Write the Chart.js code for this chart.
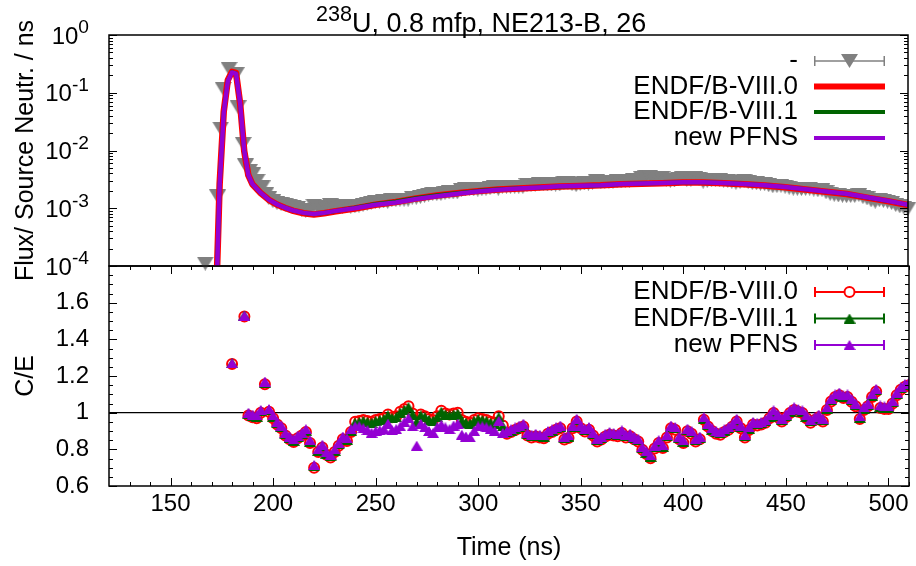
<!DOCTYPE html>
<html>
<head>
<meta charset="utf-8">
<script src="https://cdn.jsdelivr.net/npm/chart.js@4/dist/chart.umd.min.js"></script>
<style>
  html, body { margin: 0; padding: 0; background: #fff; }
  #wrap { position: relative; width: 916px; height: 566px; }
  canvas { position: absolute; left: 0; top: 0; }
</style>
</head>
<body>
<div id="wrap">
  <canvas id="ceChart" width="916" height="566"></canvas>
  <canvas id="fluxChart" width="916" height="566"></canvas>
</div>
<script>
// ---- axes ----
const xMin = 120, xMax = 510;
const xTicks = [150, 200, 250, 300, 350, 400, 450, 500];
const xTickLabels = ['150', '200', '250', '300', '350', '400', '450', '500'];
const fluxMin = 1e-4, fluxMax = 1;
const fluxTicks = [1e-4, 1e-3, 1e-2, 1e-1, 1];
const fluxTickExp = ['-4', '-3', '-2', '-1', '0'];
const ceMin = 0.6, ceMax = 1.8;
const ceTicks = [0.6, 0.8, 1, 1.2, 1.4, 1.6];
const ceTickLabels = ['0.6', '0.8', '1', '1.2', '1.4', '1.6'];
const ceRef = 1;

const titleSup = '238';
const titleText = 'U, 0.8 mfp, NE213-B, 26';
const fluxLegend = ['-', 'ENDF/B-VIII.0', 'ENDF/B-VIII.1', 'new PFNS'];
const ceLegend = ['ENDF/B-VIII.0', 'ENDF/B-VIII.1', 'new PFNS'];

// ---- measured spectrum (top panel) ----
const expTime = [167, 173, 174.5, 175.7, 178.6, 182.1, 183, 185.5, 186.6, 188.5, 190.2, 192.3, 194.7, 196.6,
  198, 200, 202, 204, 206, 208, 210, 212, 214, 216, 218, 220, 222, 224, 226, 228, 230, 232, 234, 236,
  238, 240, 242, 244, 246, 248, 250, 252, 254, 256, 258, 260, 262, 264, 266, 268, 270, 272, 274, 276,
  278, 280, 282, 284, 286, 288, 290, 292, 294, 296, 298, 300, 302, 304, 306, 308, 310, 312, 314, 316,
  318, 320, 322, 324, 326, 328, 330, 332, 334, 336, 338, 340, 342, 344, 346, 348, 350, 352, 354, 356,
  358, 360, 362, 364, 366, 368, 370, 372, 374, 376, 378, 380, 382, 384, 386, 388, 390, 392, 394, 396,
  398, 400, 402, 404, 406, 408, 410, 412, 414, 416, 418, 420, 422, 424, 426, 428, 430, 432, 434, 436,
  438, 440, 442, 444, 446, 448, 450, 452, 454, 456, 458, 460, 462, 464, 466, 468, 470, 472, 474, 476,
  478, 480, 482, 484, 486, 488, 490, 492, 494, 496, 498, 500, 502, 504, 506, 508, 510];
const expFlux = [1.1e-4, 1.6e-3, 0.024, 0.117, 0.26, 0.21, 0.056, 0.013, 0.0055, 0.0044, 0.0039, 0.0030, 0.0023, 0.00178,
  1.50e-3, 1.33e-3, 1.23e-3, 1.18e-3, 1.15e-3, 1.11e-3, 1.07e-3, 1.01e-3, 0.95e-3, 0.91e-3,
  0.95e-3, 1.11e-3, 1.01e-3, 1.00e-3, 1.07e-3, 1.13e-3, 1.11e-3, 1.09e-3, 1.07e-3, 1.11e-3,
  1.07e-3, 1.08e-3, 1.11e-3, 1.15e-3, 1.20e-3, 1.25e-3, 1.28e-3, 1.29e-3, 1.31e-3, 1.29e-3,
  1.37e-3, 1.38e-3, 1.40e-3, 1.40e-3, 1.41e-3, 1.52e-3, 1.52e-3, 1.57e-3, 1.65e-3, 1.72e-3,
  1.78e-3, 1.76e-3, 1.77e-3, 1.83e-3, 1.88e-3, 1.88e-3, 1.89e-3, 2.06e-3, 2.12e-3, 2.17e-3,
  2.13e-3, 2.11e-3, 2.14e-3, 2.18e-3, 2.23e-3, 2.29e-3, 2.19e-3, 2.37e-3, 2.37e-3, 2.36e-3,
  2.36e-3, 2.36e-3, 2.35e-3, 2.51e-3, 2.56e-3, 2.57e-3, 2.60e-3, 2.64e-3, 2.59e-3, 2.58e-3,
  2.57e-3, 2.58e-3, 2.78e-3, 2.76e-3, 2.61e-3, 2.52e-3, 2.63e-3, 2.70e-3, 2.68e-3, 2.79e-3,
  2.91e-3, 2.89e-3, 2.86e-3, 2.85e-3, 2.90e-3, 2.94e-3, 2.91e-3, 3.00e-3, 2.99e-3, 3.06e-3,
  3.12e-3, 3.31e-3, 3.42e-3, 3.53e-3, 3.32e-3, 3.22e-3, 3.35e-3, 3.14e-3, 2.99e-3, 3.03e-3,
  3.22e-3, 3.32e-3, 3.09e-3, 3.13e-3, 3.29e-3, 3.24e-3, 2.89e-3, 2.98e-3, 3.05e-3, 3.09e-3,
  3.08e-3, 3.02e-3, 2.96e-3, 2.87e-3, 2.77e-3, 2.85e-3, 2.99e-3, 2.84e-3, 2.72e-3, 2.71e-3,
  2.66e-3, 2.62e-3, 2.51e-3, 2.41e-3, 2.42e-3, 2.45e-3, 2.36e-3, 2.27e-3, 2.19e-3, 2.18e-3,
  2.15e-3, 2.17e-3, 2.19e-3, 2.11e-3, 2.05e-3, 2.06e-3, 1.89e-3, 1.78e-3, 1.71e-3, 1.67e-3,
  1.65e-3, 1.62e-3, 1.63e-3, 1.63e-3, 1.70e-3, 1.56e-3, 1.48e-3, 1.37e-3, 1.30e-3, 1.38e-3,
  1.34e-3, 1.30e-3, 1.23e-3, 1.14e-3, 1.08e-3, 1.03e-3, 0.99e-3];

// ---- calculated spectra (top panel) ----
const calcTime = [166, 170, 172, 174, 176, 178, 180, 182, 184, 186, 188, 190, 194, 198, 202, 206, 210, 215, 220, 225,
  230, 240, 250, 260, 270, 280, 290, 300, 310, 320, 330, 340, 350, 360, 370, 380, 390, 400, 410, 420,
  430, 440, 450, 460, 470, 480, 490, 500, 510];
const fluxV80 = [1e-6, 1e-6, 1.2e-5, 2.6e-3, 0.047, 0.165, 0.23, 0.22, 0.065, 0.0098, 3.75e-3, 2.6e-3, 1.84e-3, 1.4e-3,
  1.16e-3, 1.01e-3, 9.0e-4, 8.2e-4, 7.8e-4, 8.2e-4, 8.8e-4, 9.9e-4, 1.15e-3, 1.28e-3, 1.48e-3, 1.66e-3, 1.82e-3,
  1.98e-3, 2.11e-3, 2.2e-3, 2.28e-3, 2.38e-3, 2.43e-3, 2.49e-3, 2.6e-3, 2.66e-3, 2.72e-3, 2.79e-3, 2.79e-3,
  2.72e-3, 2.6e-3, 2.48e-3, 2.31e-3, 2.11e-3, 1.93e-3, 1.76e-3, 1.53e-3, 1.33e-3, 1.13e-3];
const fluxV81 = [1e-6, 1e-6, 1.1e-5, 2.5e-3, 0.046, 0.162, 0.227, 0.217, 0.066, 0.0099, 3.78e-3, 2.62e-3, 1.85e-3, 1.41e-3,
  1.17e-3, 1.02e-3, 9.1e-4, 8.3e-4, 7.9e-4, 8.3e-4, 8.9e-4, 1.02e-3, 1.19e-3, 1.31e-3, 1.5e-3, 1.68e-3, 1.84e-3,
  2.0e-3, 2.13e-3, 2.21e-3, 2.29e-3, 2.39e-3, 2.44e-3, 2.5e-3, 2.62e-3, 2.68e-3, 2.74e-3, 2.81e-3, 2.81e-3,
  2.74e-3, 2.62e-3, 2.5e-3, 2.33e-3, 2.13e-3, 1.94e-3, 1.77e-3, 1.54e-3, 1.34e-3, 1.14e-3];
const fluxPfns = [1e-6, 1e-6, 1e-5, 2.5e-3, 0.045, 0.16, 0.225, 0.215, 0.066, 0.01, 3.8e-3, 2.63e-3, 1.86e-3, 1.41e-3,
  1.17e-3, 1.02e-3, 9.12e-4, 8.32e-4, 7.94e-4, 8.32e-4, 8.91e-4, 1.0e-3, 1.15e-3, 1.26e-3, 1.45e-3, 1.62e-3, 1.78e-3,
  1.95e-3, 2.09e-3, 2.19e-3, 2.29e-3, 2.40e-3, 2.45e-3, 2.51e-3, 2.63e-3, 2.69e-3, 2.75e-3, 2.82e-3, 2.82e-3,
  2.75e-3, 2.63e-3, 2.51e-3, 2.34e-3, 2.14e-3, 1.95e-3, 1.78e-3, 1.55e-3, 1.35e-3, 1.15e-3];

// ---- C/E (bottom panel) ----
const ceTime = [180, 186, 188, 190, 192, 194, 196, 198, 200, 202, 204, 206, 208, 210, 212, 214, 216, 218, 220, 222,
  224, 226, 228, 230, 232, 234, 236, 238, 240, 242, 244, 246, 248, 250, 252, 254, 256, 258, 260, 262,
  264, 266, 268, 270, 272, 274, 276, 278, 280, 282, 284, 286, 288, 290, 292, 294, 296, 298, 300, 302,
  304, 306, 308, 310, 312, 314, 316, 318, 320, 322, 324, 326, 328, 330, 332, 334, 336, 338, 340, 342,
  344, 346, 348, 350, 352, 354, 356, 358, 360, 362, 364, 366, 368, 370, 372, 374, 376, 378, 380, 382,
  384, 386, 388, 390, 392, 394, 396, 398, 400, 402, 404, 406, 408, 410, 412, 414, 416, 418, 420, 422,
  424, 426, 428, 430, 432, 434, 436, 438, 440, 442, 444, 446, 448, 450, 452, 454, 456, 458, 460, 462,
  464, 466, 468, 470, 472, 474, 476, 478, 480, 482, 484, 486, 488, 490, 492, 494, 496, 498, 500, 502,
  504, 506, 508, 510];
const ceV80 = [1.265, 1.525,
  0.985, 0.975, 0.97, 1.0, 1.155, 1.005, 0.97, 0.935, 0.915, 0.875,
  0.855, 0.84, 0.86, 0.875, 0.895, 0.835, 0.70, 0.785, 0.81, 0.77,
  0.755, 0.785, 0.82, 0.855, 0.845, 0.895, 0.95, 0.955, 0.96, 0.955,
  0.95, 0.96, 0.965, 0.97, 0.99, 0.975, 0.98, 1.005, 1.02, 1.035,
  0.995, 0.955, 0.99, 0.98, 0.965, 0.96, 0.98, 1.01, 0.995, 0.99,
  0.995, 1.0, 0.96, 0.95, 0.945, 0.96, 0.97, 0.965, 0.96, 0.95,
  0.945, 0.98, 0.93, 0.885, 0.895, 0.905, 0.915, 0.925, 0.875, 0.865,
  0.87, 0.865, 0.861, 0.885, 0.895, 0.907, 0.915, 0.853, 0.862, 0.915,
  0.952, 0.915, 0.897, 0.907, 0.875, 0.843, 0.853, 0.87, 0.88, 0.875,
  0.871, 0.889, 0.865, 0.871, 0.855, 0.843, 0.798, 0.775, 0.752, 0.805,
  0.835, 0.807, 0.865, 0.915, 0.907, 0.855, 0.835, 0.898, 0.885, 0.843,
  0.855, 0.961, 0.925, 0.90, 0.885, 0.88, 0.895, 0.907, 0.925, 0.952,
  0.915, 0.865, 0.905, 0.935, 0.93, 0.935, 0.945, 0.97, 0.998, 0.975,
  0.952, 0.975, 0.998, 1.015, 1.005, 0.998, 0.97, 0.945, 0.96, 0.975,
  0.952, 1.015, 1.061, 1.085, 1.095, 1.08, 1.085, 1.06, 1.035, 0.965,
  1.015, 1.035, 1.085, 1.115, 1.025, 1.02, 1.02, 1.05, 1.095, 1.125,
  1.142, 1.15];
const ceV81 = [1.27, 1.53,
  0.992, 0.982, 0.977, 1.007, 1.162, 1.012, 0.977, 0.942, 0.922, 0.882,
  0.862, 0.847, 0.867, 0.882, 0.902, 0.842, 0.707, 0.792, 0.817, 0.777,
  0.762, 0.792, 0.827, 0.862, 0.852, 0.902, 0.945, 0.95, 0.955, 0.95,
  0.945, 0.955, 0.96, 0.965, 0.985, 0.97, 0.975, 1.0, 1.015, 1.03,
  0.99, 0.95, 0.985, 0.975, 0.96, 0.955, 0.975, 1.005, 0.99, 0.985,
  0.99, 0.995, 0.955, 0.945, 0.94, 0.955, 0.965, 0.96, 0.955, 0.945,
  0.94, 0.975, 0.925, 0.892, 0.902, 0.912, 0.922, 0.932, 0.882, 0.872,
  0.877, 0.872, 0.868, 0.892, 0.902, 0.914, 0.922, 0.86, 0.869, 0.922,
  0.959, 0.922, 0.904, 0.914, 0.882, 0.85, 0.86, 0.877, 0.887, 0.882,
  0.878, 0.896, 0.872, 0.878, 0.862, 0.85, 0.805, 0.782, 0.759, 0.812,
  0.842, 0.814, 0.872, 0.922, 0.914, 0.862, 0.842, 0.905, 0.892, 0.85,
  0.862, 0.968, 0.932, 0.907, 0.892, 0.887, 0.902, 0.914, 0.932, 0.959,
  0.922, 0.872, 0.912, 0.942, 0.937, 0.942, 0.952, 0.977, 1.005, 0.982,
  0.959, 0.982, 1.005, 1.022, 1.012, 1.005, 0.977, 0.952, 0.967, 0.982,
  0.959, 1.022, 1.068, 1.092, 1.102, 1.087, 1.092, 1.067, 1.042, 0.972,
  1.022, 1.042, 1.092, 1.122, 1.032, 1.027, 1.027, 1.057, 1.102, 1.132,
  1.149, 1.157];
const cePfns = [1.27, 1.53,
  1.00, 0.99, 0.985, 1.015, 1.17, 1.02, 0.985, 0.95, 0.93, 0.89,
  0.87, 0.855, 0.875, 0.89, 0.91, 0.85, 0.715, 0.80, 0.825, 0.785,
  0.77, 0.80, 0.835, 0.87, 0.86, 0.91, 0.925, 0.925, 0.915, 0.905,
  0.89, 0.90, 0.905, 0.91, 0.94, 0.905, 0.91, 0.925, 0.95, 0.97,
  0.925, 0.82, 0.94, 0.92, 0.90, 0.89, 0.92, 0.935, 0.92, 0.91,
  0.93, 0.94, 0.88, 0.87, 0.865, 0.90, 0.925, 0.925, 0.92, 0.91,
  0.90, 0.955, 0.89, 0.90, 0.91, 0.92, 0.93, 0.94, 0.89, 0.88,
  0.885, 0.88, 0.876, 0.90, 0.91, 0.922, 0.93, 0.868, 0.877, 0.93,
  0.967, 0.93, 0.912, 0.922, 0.89, 0.858, 0.868, 0.885, 0.895, 0.89,
  0.886, 0.904, 0.88, 0.886, 0.87, 0.858, 0.813, 0.79, 0.767, 0.82,
  0.85, 0.822, 0.88, 0.93, 0.922, 0.87, 0.85, 0.913, 0.90, 0.858,
  0.87, 0.976, 0.94, 0.915, 0.90, 0.895, 0.91, 0.922, 0.94, 0.967,
  0.93, 0.88, 0.92, 0.95, 0.945, 0.95, 0.96, 0.985, 1.013, 0.99,
  0.967, 0.99, 1.013, 1.03, 1.02, 1.013, 0.985, 0.96, 0.975, 0.99,
  0.967, 1.03, 1.076, 1.10, 1.11, 1.095, 1.10, 1.075, 1.05, 0.98,
  1.03, 1.05, 1.10, 1.13, 1.04, 1.035, 1.035, 1.065, 1.11, 1.14,
  1.157, 1.165];

// ---- look ----
const FONT = '"Liberation Sans", Arial, Helvetica, sans-serif';
const COL = { exp: '#808080', v80: '#ff0000', v81: '#006400', pfns: '#9400d3' };
const PLOT_LEFT = 109, PLOT_RIGHT = 914, SPLIT = 266, PLOT_BOTTOM = 486, PLOT_TOP = 35;
const LEG_TEXT_X = 798, LEG_X0 = 814, LEG_X1 = 885;

const pts = (xs, ys) => xs.map((x, i) => ({ x, y: ys[i] }));

// triangle markers centred on their bounding box, like gnuplot's
function makeTri(w, h, color, down) {
  const c = document.createElement('canvas');
  c.width = w; c.height = h;
  const g = c.getContext('2d');
  g.fillStyle = color;
  g.beginPath();
  if (down) { g.moveTo(0, 0); g.lineTo(w, 0); g.lineTo(w / 2, h); }
  else { g.moveTo(0, h); g.lineTo(w, h); g.lineTo(w / 2, 0); }
  g.closePath();
  g.fill();
  return c;
}
const triExp = makeTri(17, 14, COL.exp, true);
const triV81 = makeTri(12, 10, COL.v81, false);
const triPfns = makeTri(12, 10, COL.pfns, false);

function seg(ctx, x1, y1, x2, y2) {
  ctx.beginPath(); ctx.moveTo(x1, y1); ctx.lineTo(x2, y2); ctx.stroke();
}

// text with a raised part; pieces = [[text, isSup], ...]
function supWidth(ctx, pieces, size) {
  return pieces.reduce((w, [t, sup]) => {
    ctx.font = `${sup ? size * 0.8 : size}px ${FONT}`;
    return w + ctx.measureText(t).width;
  }, 0);
}
function supText(ctx, pieces, x, baseY, size) {
  let cx = x;
  ctx.textAlign = 'left';
  ctx.textBaseline = 'alphabetic';
  pieces.forEach(([t, sup]) => {
    ctx.font = `${sup ? size * 0.8 : size}px ${FONT}`;
    ctx.fillText(t, cx, sup ? baseY - size * 0.42 : baseY);
    cx += ctx.measureText(t).width;
  });
}

function yTickMarks(ctx, a, scale, values, len) {
  values.forEach(v => {
    const p = Math.round(scale.getPixelForValue(v)) + 0.5;
    if (p < a.top - 1 || p > a.bottom + 1) return;
    seg(ctx, a.left, p, a.left + len, p);
    seg(ctx, a.right, p, a.right - len, p);
  });
}
function xTickMarks(ctx, a, scale, values, len) {
  values.forEach(v => {
    const p = Math.round(scale.getPixelForValue(v)) + 0.5;
    if (p < a.left - 1 || p > a.right + 1) return;
    seg(ctx, p, a.bottom, p, a.bottom - len);
    seg(ctx, p, a.top, p, a.top + len);
  });
}

function errLegend(ctx, y, color, lw) {
  ctx.strokeStyle = color; ctx.lineWidth = lw;
  seg(ctx, LEG_X0, y, LEG_X1, y);
  seg(ctx, LEG_X0 + lw / 2, y - 5, LEG_X0 + lw / 2, y + 5);
  seg(ctx, LEG_X1 - lw / 2, y - 5, LEG_X1 - lw / 2, y + 5);
}

function legendText(ctx, text, y) {
  ctx.font = `26px ${FONT}`;
  ctx.fillStyle = '#000';
  ctx.textAlign = 'right';
  ctx.textBaseline = 'middle';
  ctx.fillText(text, LEG_TEXT_X, y);
}

function stamp(ctx, img, x, y) {
  ctx.drawImage(img, x - img.width / 2, y - img.height / 2);
}

const fluxDecor = {
  id: 'fluxDecor',
  afterDatasetsDraw(chart) {
    const { ctx, chartArea: a, scales: { y } } = chart;
    ctx.save();
    ctx.strokeStyle = '#000';
    ctx.lineWidth = 1;
    const minor = [];
    for (let d = -4; d < 0; d++) for (let m = 2; m < 10; m++) minor.push(m * Math.pow(10, d));
    yTickMarks(ctx, a, y, minor, 4);
    yTickMarks(ctx, a, y, fluxTicks, 8);
    ctx.lineWidth = 1.5;
    ctx.strokeRect(a.left, a.top, a.right - a.left, a.bottom - a.top);

    // tick labels 10^n
    ctx.fillStyle = '#000';
    fluxTicks.forEach((v, i) => {
      const p = y.getPixelForValue(v);
      const pieces = [['10', false], [fluxTickExp[i], true]];
      const w = supWidth(ctx, pieces, 24);
      supText(ctx, pieces, 89 - w, p + 8.5, 24);
    });

    // title
    supText(ctx, [[titleSup, true], [titleText, false]], 316, 32, 27);

    // legend
    const rows = [61, 86.5, 112, 138];
    legendText(ctx, fluxLegend[0], rows[0]);
    errLegend(ctx, rows[0], COL.exp, 1.5);
    stamp(ctx, triExp, (LEG_X0 + LEG_X1) / 2, rows[0]);
    [[COL.v80, 6], [COL.v81, 4], [COL.pfns, 4]].forEach(([c, w], k) => {
      legendText(ctx, fluxLegend[k + 1], rows[k + 1]);
      ctx.strokeStyle = c; ctx.lineWidth = w;
      seg(ctx, LEG_X0, rows[k + 1], LEG_X1, rows[k + 1]);
    });
    ctx.restore();
  }
};

const ceDecor = {
  id: 'ceDecor',
  afterDatasetsDraw(chart) {
    const { ctx, chartArea: a, scales: { x, y } } = chart;
    ctx.save();
    ctx.strokeStyle = '#000';
    ctx.lineWidth = 1;
    const xMinor = [], yMinor = [];
    for (let t = 130; t <= xMax; t += 10) if (t % 50) xMinor.push(t);
    for (let k = 13; k < 36; k++) if (k % 4) yMinor.push(k * 0.05);
    xTickMarks(ctx, a, x, xMinor, 4);
    xTickMarks(ctx, a, x, xTicks, 8);
    yTickMarks(ctx, a, y, yMinor, 4);
    yTickMarks(ctx, a, y, ceTicks, 8);
    ctx.lineWidth = 1.5;
    ctx.strokeRect(a.left, a.top, a.right - a.left, a.bottom - a.top);

    // legend
    const rows = [292, 318.5, 345];
    const mx = (LEG_X0 + LEG_X1) / 2;
    legendText(ctx, ceLegend[0], rows[0]);
    errLegend(ctx, rows[0], COL.v80, 2);
    ctx.beginPath(); ctx.arc(mx, rows[0], 5, 0, Math.PI * 2);
    ctx.fillStyle = '#fff'; ctx.fill(); ctx.stroke();
    legendText(ctx, ceLegend[1], rows[1]);
    errLegend(ctx, rows[1], COL.v81, 2);
    stamp(ctx, triV81, mx, rows[1]);
    legendText(ctx, ceLegend[2], rows[2]);
    errLegend(ctx, rows[2], COL.pfns, 2);
    stamp(ctx, triPfns, mx, rows[2]);
    ctx.restore();
  }
};

const tickFont = { family: FONT, size: 24 };
const titleFont = { family: FONT, size: 25 };

new Chart(document.getElementById('fluxChart'), {
  type: 'line',
  data: {
    datasets: [
      { label: fluxLegend[0], data: pts(expTime, expFlux), showLine: false, pointStyle: triExp,
        pointRadius: 8, backgroundColor: COL.exp, borderColor: COL.exp, borderWidth: 0,
        clip: false, order: 4 },
      { label: fluxLegend[1], data: pts(calcTime, fluxV80), borderColor: COL.v80, borderWidth: 6.5,
        pointRadius: 0, borderJoinStyle: 'round', order: 3 },
      { label: fluxLegend[2], data: pts(calcTime, fluxV81), borderColor: COL.v81, borderWidth: 4,
        pointRadius: 0, borderJoinStyle: 'round', order: 2 },
      { label: fluxLegend[3], data: pts(calcTime, fluxPfns), borderColor: COL.pfns, borderWidth: 4.5,
        pointRadius: 0, borderJoinStyle: 'round', order: 1 }
    ]
  },
  options: {
    responsive: false,
    animation: false,
    events: [],
    layout: { padding: { left: 0, right: 916 - PLOT_RIGHT, top: PLOT_TOP, bottom: 566 - SPLIT } },
    plugins: { legend: { display: false }, tooltip: { enabled: false } },
    scales: {
      x: { type: 'linear', min: xMin, max: xMax, display: false },
      y: {
        type: 'logarithmic', min: fluxMin, max: fluxMax,
        grid: { display: false, drawTicks: false },
        border: { display: false },
        ticks: { display: false },
        title: { display: true, text: 'Flux/ Source Neutr. / ns', color: '#000', font: titleFont,
          padding: { top: 11, bottom: 0 } },
        afterFit: s => { s.width = PLOT_LEFT; }
      }
    }
  },
  plugins: [fluxDecor]
});

new Chart(document.getElementById('ceChart'), {
  type: 'line',
  data: {
    datasets: [
      { label: 'ref', data: [{ x: xMin, y: ceRef }, { x: xMax, y: ceRef }], borderColor: '#000',
        borderWidth: 1.2, pointRadius: 0, order: 5 },
      { label: ceLegend[0], data: pts(ceTime, ceV80), showLine: false, pointStyle: 'circle', pointRadius: 5,
        backgroundColor: 'rgba(0,0,0,0)', borderColor: COL.v80, borderWidth: 2, order: 3 },
      { label: ceLegend[1], data: pts(ceTime, ceV81), showLine: false, pointStyle: triV81, pointRadius: 6,
        backgroundColor: COL.v81, borderColor: COL.v81, borderWidth: 0, order: 2 },
      { label: ceLegend[2], data: pts(ceTime, cePfns), showLine: false, pointStyle: triPfns, pointRadius: 6,
        backgroundColor: COL.pfns, borderColor: COL.pfns, borderWidth: 0, order: 1 }
    ]
  },
  options: {
    responsive: false,
    animation: false,
    events: [],
    layout: { padding: { left: 0, right: 916 - PLOT_RIGHT, top: SPLIT, bottom: 0 } },
    plugins: { legend: { display: false }, tooltip: { enabled: false } },
    scales: {
      x: {
        type: 'linear', min: xMin, max: xMax,
        grid: { display: false, drawTicks: false },
        border: { display: false },
        afterBuildTicks: s => { s.ticks = xTicks.map(v => ({ value: v })); },
        ticks: { color: '#000', font: tickFont, padding: 4, autoSkip: false, maxRotation: 0,
          callback: (v, i) => xTickLabels[i] },
        title: { display: true, text: 'Time (ns)', color: '#000', font: titleFont,
          padding: { top: 0, bottom: 3 } },
        afterFit: s => { s.height = 566 - PLOT_BOTTOM; }
      },
      y: {
        type: 'linear', min: ceMin, max: ceMax,
        grid: { display: false, drawTicks: false },
        border: { display: false },
        afterBuildTicks: s => { s.ticks = ceTicks.map(v => ({ value: v })); },
        ticks: { color: '#000', font: tickFont, padding: 20, autoSkip: false,
          callback: (v, i) => ceTickLabels[i] },
        title: { display: true, text: 'C/E', color: '#000', font: titleFont,
          padding: { top: 11, bottom: 0 } },
        afterFit: s => { s.width = PLOT_LEFT; }
      }
    }
  },
  plugins: [ceDecor]
});
</script>
</body>
</html>
